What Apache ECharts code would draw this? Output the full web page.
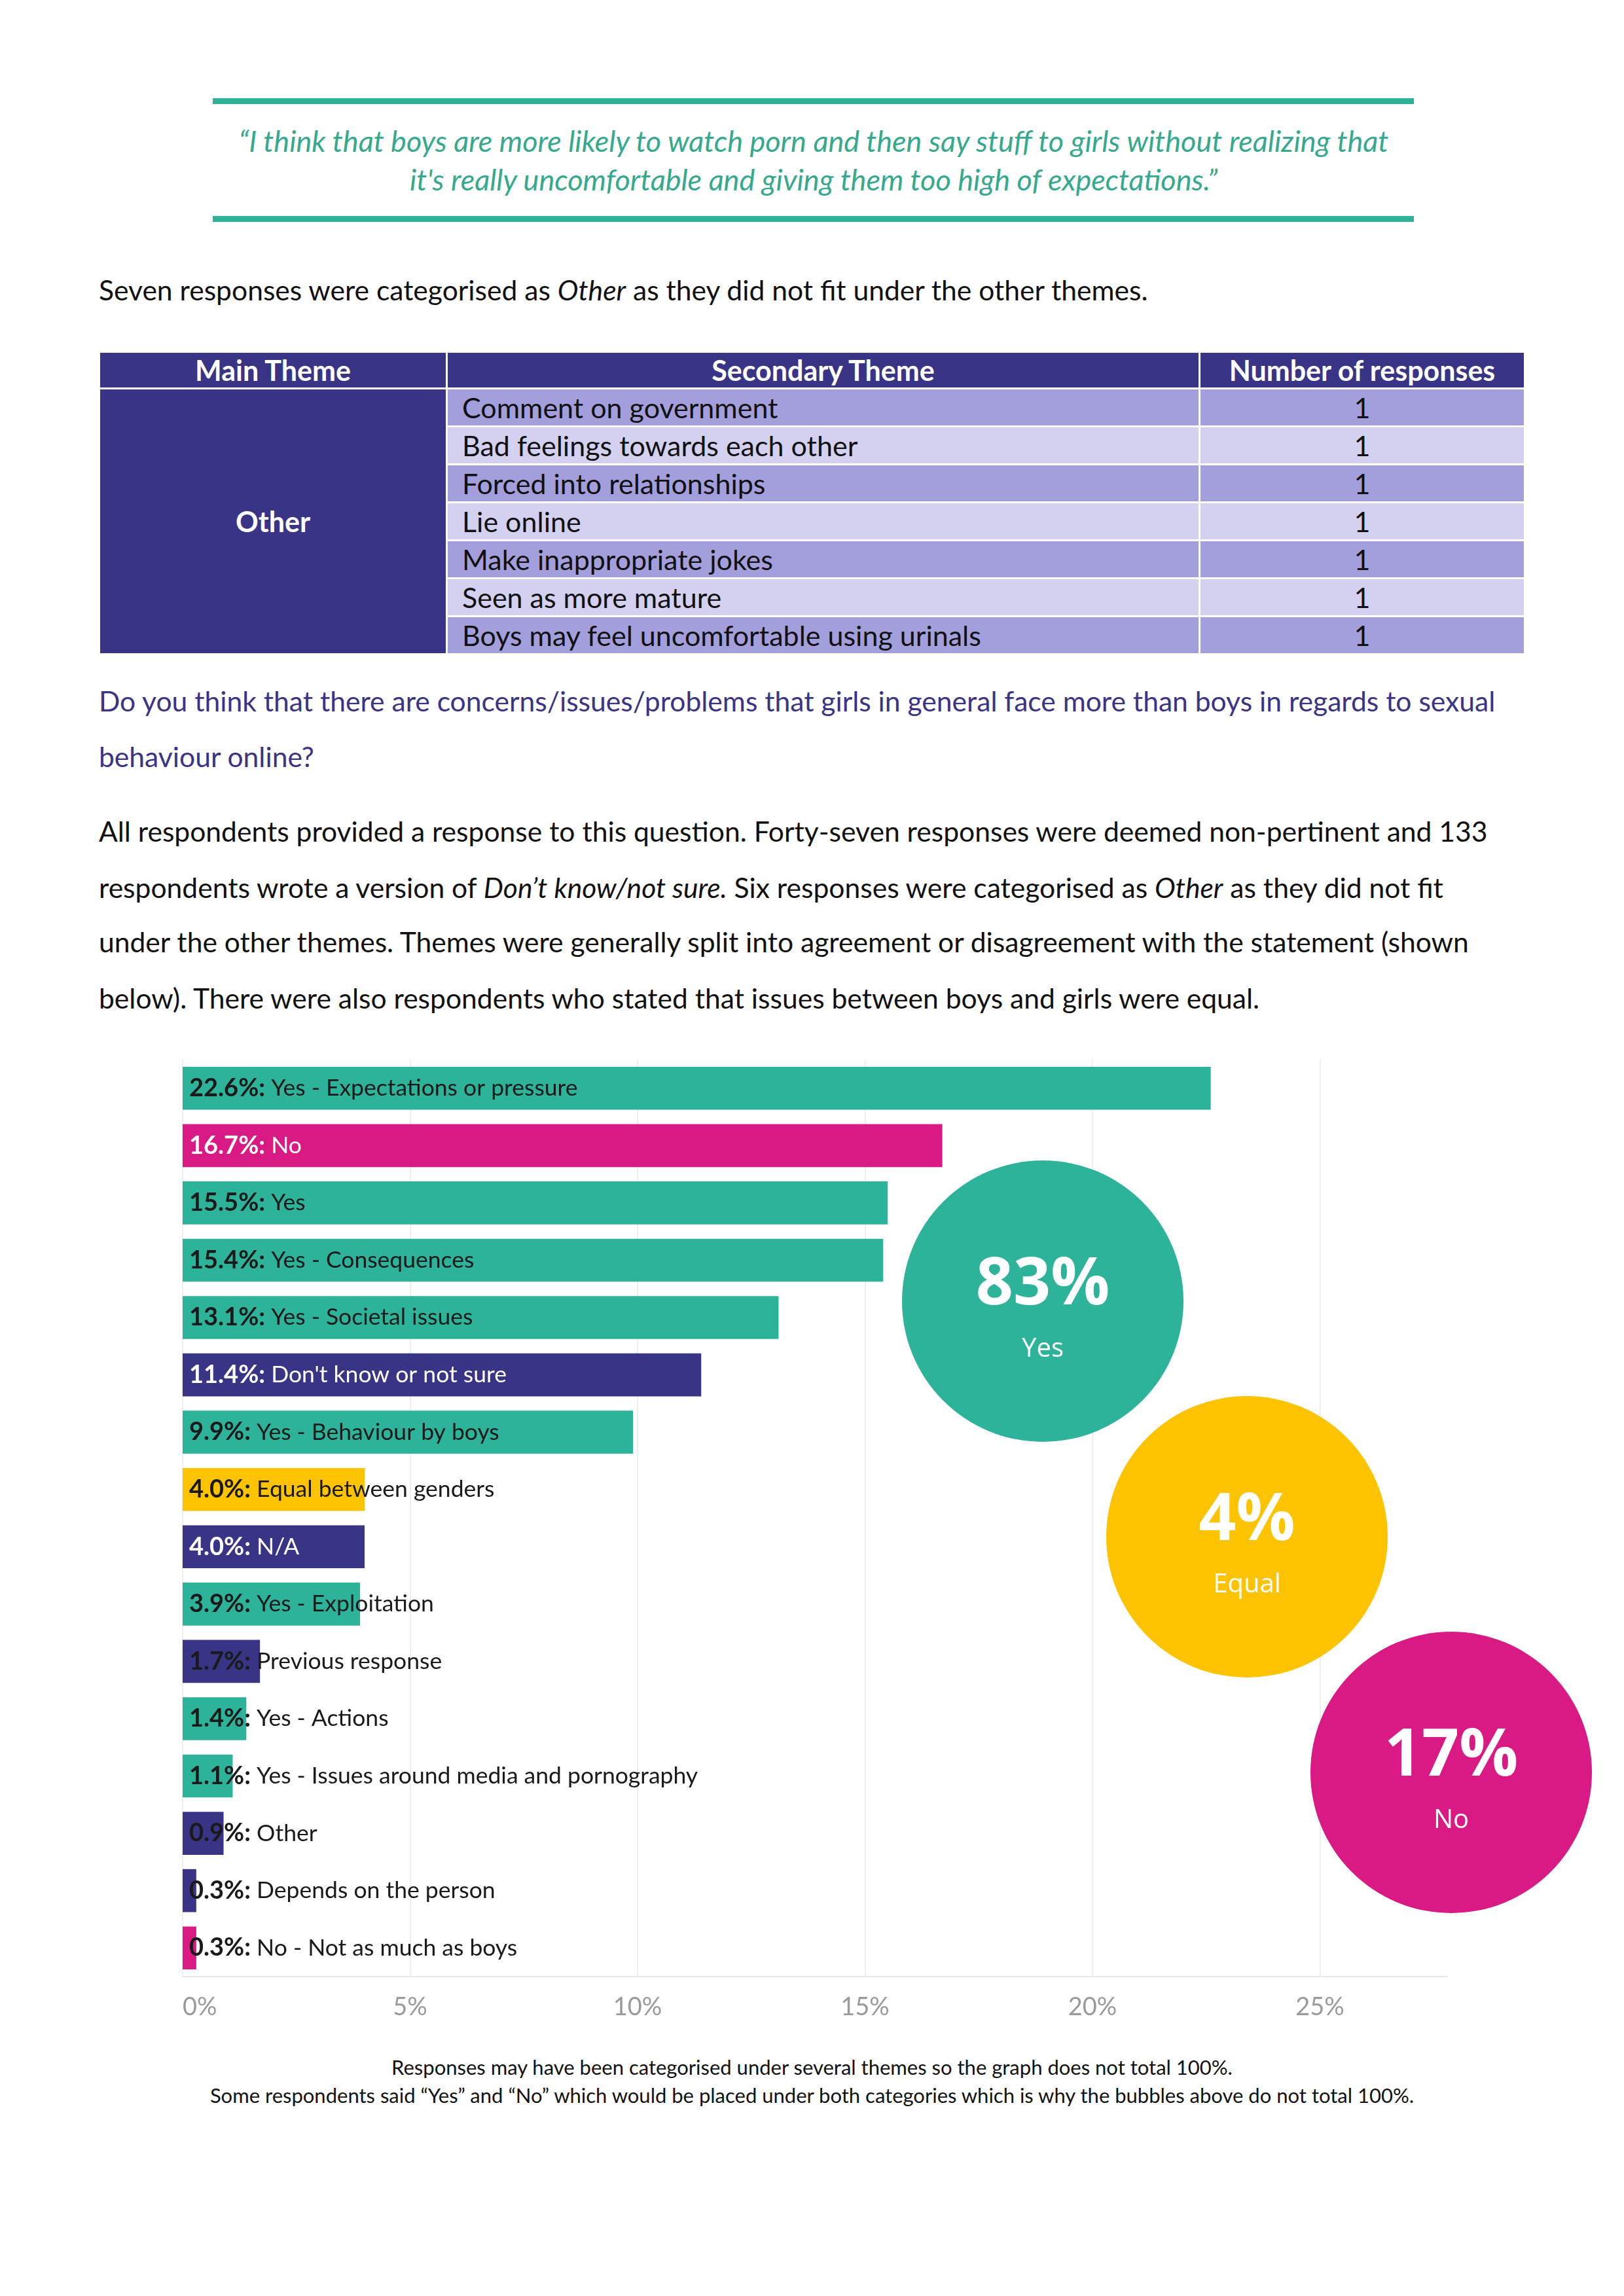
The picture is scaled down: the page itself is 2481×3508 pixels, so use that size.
<!DOCTYPE html>
<html>
<head>
<meta charset="utf-8">
<script src="https://cdn.jsdelivr.net/npm/echarts/dist/echarts.min.js"></script>
<style>
html,body{margin:0;padding:0;background:#fff;}
#page{position:relative;width:2481px;height:3508px;overflow:hidden;font-family:Lato,'Open Sans',sans-serif;color:#111;}
.t{position:absolute;white-space:nowrap;font-size:42.6px;line-height:50px;}
.rule{position:absolute;left:325px;width:1835px;height:9px;background:#2fb398;}
.quote{position:absolute;left:326px;width:1834px;text-align:center;font-style:italic;color:#35a98e;font-size:45px;line-height:50px;white-space:nowrap;}
.q{color:#3b3385;}
#tbl{position:absolute;left:150px;top:536px;border-collapse:collapse;table-layout:fixed;font-size:43px;}
#tbl td,#tbl th{border:3px solid #fff;padding:0;white-space:nowrap;overflow:hidden;}
#tbl th{background:#3a3486;color:#fff;font-weight:700;height:53px;text-align:center;}
#tbl td{height:55px;color:#111;}
#tbl td.main{background:#3a3486;color:#fff;font-weight:700;text-align:center;}
#tbl td.sec{padding-left:22px;}
#tbl td.num{text-align:center;}
.foot{position:absolute;left:0;width:2481px;text-align:center;font-size:31px;line-height:40px;color:#111;white-space:nowrap;}
#chart{position:absolute;left:0;top:0;width:2481px;height:3508px;}
</style>
</head>
<body>
<div id="page">
  <div class="rule" style="top:150px"></div>
  <div class="quote" style="top:190px">“I think that boys are more likely to watch porn and then say stuff to girls without realizing that</div>
  <div class="quote" style="top:249px">it's really uncomfortable and giving them too high of expectations.”</div>
  <div class="rule" style="top:330px"></div>

  <div class="t" style="left:151px;top:418px">Seven responses were categorised as <i>Other</i> as they did not fit under the other themes.</div>

  <table id="tbl"></table>

  <div class="t q" style="left:151px;top:1046px">Do you think that there are concerns/issues/problems that girls in general face more than boys in regards to sexual</div>
  <div class="t q" style="left:151px;top:1131px">behaviour online?</div>

  <div class="t" style="left:151px;top:1245px">All respondents provided a response to this question. Forty-seven responses were deemed non-pertinent and 133</div>
  <div class="t" style="left:151px;top:1331px">respondents wrote a version of <i>Don’t know/not sure.</i> Six responses were categorised as <i>Other</i> as they did not fit</div>
  <div class="t" style="left:151px;top:1414px">under the other themes. Themes were generally split into agreement or disagreement with the statement (shown</div>
  <div class="t" style="left:151px;top:1500px">below). There were also respondents who stated that issues between boys and girls were equal.</div>

  <div class="foot" style="top:3138px">Responses may have been categorised under several themes so the graph does not total 100%.</div>
  <div class="foot" style="top:3181px">Some respondents said “Yes” and “No” which would be placed under both categories which is why the bubbles above do not total 100%.</div>

  <div id="chart"></div>
</div>
<script>
// ---- Table data ----
var tableHeaders = ['Main Theme', 'Secondary Theme', 'Number of responses'];
var tableMainTheme = 'Other';
var tableSecondary = ['Comment on government', 'Bad feelings towards each other', 'Forced into relationships', 'Lie online', 'Make inappropriate jokes', 'Seen as more mature', 'Boys may feel uncomfortable using urinals'];
var tableCounts = [1, 1, 1, 1, 1, 1, 1];

// ---- Bar chart data ----
var categories = ['Yes - Expectations or pressure', 'No', 'Yes', 'Yes - Consequences', 'Yes - Societal issues', "Don't know or not sure", 'Yes - Behaviour by boys', 'Equal between genders', 'N/A', 'Yes - Exploitation', 'Previous response', 'Yes - Actions', 'Yes - Issues around media and pornography', 'Other', 'Depends on the person', 'No - Not as much as boys'];
var values = [22.6, 16.7, 15.5, 15.4, 13.1, 11.4, 9.9, 4.0, 4.0, 3.9, 1.7, 1.4, 1.1, 0.9, 0.3, 0.3];
var groups = ['Yes', 'No', 'Yes', 'Yes', 'Yes', 'Other', 'Yes', 'Equal', 'Other', 'Yes', 'Other', 'Yes', 'Yes', 'Other', 'Other', 'No'];
var xTicks = [0, 5, 10, 15, 20, 25];

// ---- Bubble data ----
var bubbleLabels = ['Yes', 'Equal', 'No'];
var bubbleValues = [83, 4, 17];

// build table
(function () {
  var widths = [531, 1150, 497];
  var tbl = document.getElementById('tbl');
  var html = '<colgroup>' + widths.map(function (w) { return '<col style="width:' + w + 'px">'; }).join('') + '</colgroup>';
  html += '<tr>' + tableHeaders.map(function (h) { return '<th>' + h + '</th>'; }).join('') + '</tr>';
  tableSecondary.forEach(function (s, i) {
    var bg = i % 2 === 0 ? '#a39fdc' : '#d3d1ef';
    html += '<tr>';
    if (i === 0) html += '<td class="main" rowspan="' + tableSecondary.length + '">' + tableMainTheme + '</td>';
    html += '<td class="sec" style="background:' + bg + '">' + s + '</td>';
    html += '<td class="num" style="background:' + bg + '">' + tableCounts[i] + '</td>';
    html += '</tr>';
  });
  tbl.innerHTML = html;
})();

var groupColor = { Yes: '#2db39a', No: '#d91a85', Other: '#3a3486', Equal: '#fdc300' };

var chart = echarts.init(document.getElementById('chart'), null, { renderer: 'canvas' });

var barData = values.map(function (v, i) {
  var g = groups[i];
  var light = (g === 'No' || g === 'Other') && v >= 4;
  var c = light ? '#ffffff' : '#1a1a1a';
  return {
    value: v,
    itemStyle: { color: groupColor[g] },
    label: {
      rich: {
        b: { fontFamily: 'Lato', fontWeight: 700, fontSize: 38, color: c },
        n: { fontFamily: 'Lato', fontWeight: 400, fontSize: 35.5, color: c }
      }
    }
  };
});

var bubbleData = bubbleLabels.map(function (l, i) {
  return { value: [l, l, bubbleValues[i]], itemStyle: { color: groupColor[l], opacity: 1 } };
});

chart.setOption({
  animation: false,
  grid: [
    { left: 279, top: 1619, right: 270, height: 1401 },
    { left: 1437, top: 1808, width: 936, height: 1080 }
  ],
  xAxis: [
    {
      gridIndex: 0, type: 'value', min: 0, max: 27.8, interval: 5,
      axisLine: { show: true, lineStyle: { color: '#e8e8e8', width: 2 } },
      axisTick: { show: false },
      splitLine: { show: true, showMaxLine: false, lineStyle: { color: '#eeeeee', width: 2 } },
      axisLabel: {
        show: true, color: '#9a9a9a', fontFamily: 'Lato', fontSize: 38, margin: 28,
        showMaxLabel: false, alignMinLabel: 'left',
        formatter: function (v) { return xTicks.indexOf(v) >= 0 ? v + '%' : ''; }
      }
    },
    { gridIndex: 1, type: 'category', data: bubbleLabels, show: false }
  ],
  yAxis: [
    {
      gridIndex: 0, type: 'category', data: categories, inverse: true,
      axisLine: { show: false }, axisTick: { show: false }, axisLabel: { show: false }, splitLine: { show: false }
    },
    { gridIndex: 1, type: 'category', data: bubbleLabels, inverse: true, show: false }
  ],
  series: [
    {
      type: 'bar', xAxisIndex: 0, yAxisIndex: 0,
      data: barData,
      barCategoryGap: '25%',
      label: {
        show: true, position: 'insideLeft', distance: 10,
        formatter: function (p) { return '{b|' + p.value.toFixed(1) + '%:}{n| ' + categories[p.dataIndex] + '}'; }
      }
    },
    {
      type: 'scatter', xAxisIndex: 1, yAxisIndex: 1,
      symbol: 'circle', symbolSize: 430,
      data: bubbleData,
      itemStyle: { opacity: 1 },
      label: {
        show: true, position: 'inside', offset: [0, 14],
        formatter: function (p) { return '{p|' + p.value[2] + '%}\n{l|' + p.value[0] + '}'; },
        rich: {
          p: { fontFamily: 'Open Sans', fontWeight: 700, fontSize: 100, lineHeight: 120, color: '#fff' },
          l: { fontFamily: 'Open Sans', fontWeight: 400, fontSize: 40, lineHeight: 74, color: '#fff' }
        }
      }
    }
  ]
});
</script>
</body>
</html>
